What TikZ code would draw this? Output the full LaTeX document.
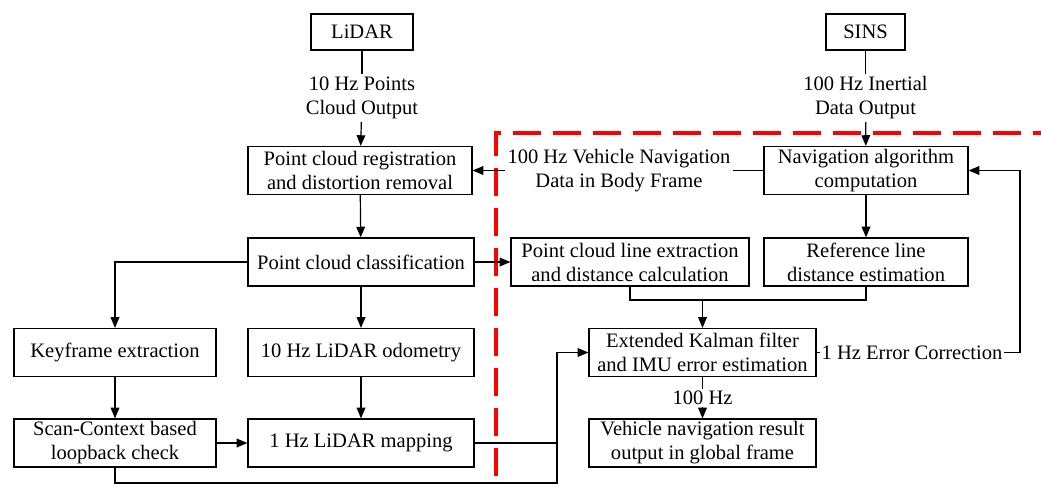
\documentclass[tikz,border=0pt]{standalone}
\usepackage{fontspec}
\setmainfont{Liberation Serif}
\usetikzlibrary{arrows.meta}
\begin{document}
\begin{tikzpicture}[x = 0.75pt, y = -0.75pt,
  txt/.style = {font = \fontsize{15.4}{18}\selectfont, align = center},
  blk/.style = {txt, draw, line width = 0.9pt, inner sep = 0pt, minimum height = 36pt},
  wd/.style = {minimum width = #1*0.75pt},
  lbl/.style = {txt, fill = white, inner sep = 2pt},
  ln/.style = {line width = 0.9pt},
  arr/.style = {ln, -{Triangle[length = 8pt, width = 6.5pt]}}]
  \useasboundingbox (0,0) rectangle (1041,486);
  \node[blk, wd = 102, minimum height = 27pt] (lidar) at (362,32) {LiDAR};
  \node[blk, wd = 79, minimum height = 27pt] (sins) at (865.5,32) {SINS};
  \node[blk, wd = 224] (reg) at (360,170.5) {Point cloud registration\\and distortion removal};
  \node[blk, wd = 204] (nav) at (866,170.5) {Navigation algorithm\\computation};
  \node[blk, wd = 226] (cls) at (361,262) {Point cloud classification};
  \node[blk, wd = 238] (lext) at (630,262) {Point cloud line extraction\\and distance calculation};
  \node[blk, wd = 204] (refl) at (866,262) {Reference line\\distance estimation};
  \node[blk, wd = 202] (key) at (115,352.5) {Keyframe extraction};
  \node[blk, wd = 226] (odo) at (361,352.5) {10 Hz LiDAR odometry};
  \node[blk, wd = 227] (ekf) at (702.5,352.5) {Extended Kalman filter\\and IMU error estimation};
  \node[blk, wd = 202] (scan) at (115,443) {Scan-Context based\\loopback check};
  \node[blk, wd = 226] (map) at (361,443) {1 Hz LiDAR mapping};
  \node[blk, wd = 227] (res) at (702.5,443) {Vehicle navigation result\\output in global frame};
  \node[lbl] (lidarout) at (362,98) {10 Hz Points\\Cloud Output};
  \node[lbl] (sinsout) at (865.5,98) {100 Hz Inertial\\Data Output};
  \node[lbl] (navout) at (619,170.5) {100 Hz Vehicle Navigation\\Data in Body Frame};
  \node[lbl, inner sep = 1pt] (errcor) at (912,352.5) {1 Hz Error Correction};
  \node[lbl, inner sep = 1pt] (hz) at (702.5,398) {100 Hz};
  \coordinate (mrg) at (702.5,300);
  \coordinate (jn) at (557,443);
  \coordinate (bt) at (557,483);
  \coordinate (ecr) at (1020,352.5);
  \draw[red, line width = 2.3pt, dash pattern = on 21pt off 9pt] (496,476) -- (496,133) -- (1041,133);
  \draw[ln] (lidar) -- (lidarout);
  \draw[arr] (lidarout) -- (reg);
  \draw[ln] (sins) -- (sinsout);
  \draw[arr] (sinsout) -- (nav);
  \draw[ln] (nav) -- (navout);
  \draw[arr] (navout) -- (reg);
  \draw[arr] (reg) -- (cls);
  \draw[arr] (nav) -- (refl);
  \draw[arr] (cls) -- (lext);
  \draw[arr] (cls) -| (key);
  \draw[arr] (cls) -- (odo);
  \draw[arr] (key) -- (scan);
  \draw[arr] (odo) -- (map);
  \draw[arr] (scan) -- (map);
  \draw[ln] (lext.south) -- (lext.south |- mrg) -- (refl.south |- mrg) -- (refl.south);
  \draw[arr] (mrg) -- (ekf);
  \draw[ln] (map) -- (jn);
  \draw[ln] (scan) |- (bt) -- (jn);
  \draw[arr] (jn) |- (ekf);
  \draw[ln] (ekf) -- (errcor);
  \draw[arr] (errcor) -- (ecr) |- (nav);
  \draw[ln] (ekf) -- (hz);
  \draw[arr] (hz) -- (res);
\end{tikzpicture}
\end{document}
